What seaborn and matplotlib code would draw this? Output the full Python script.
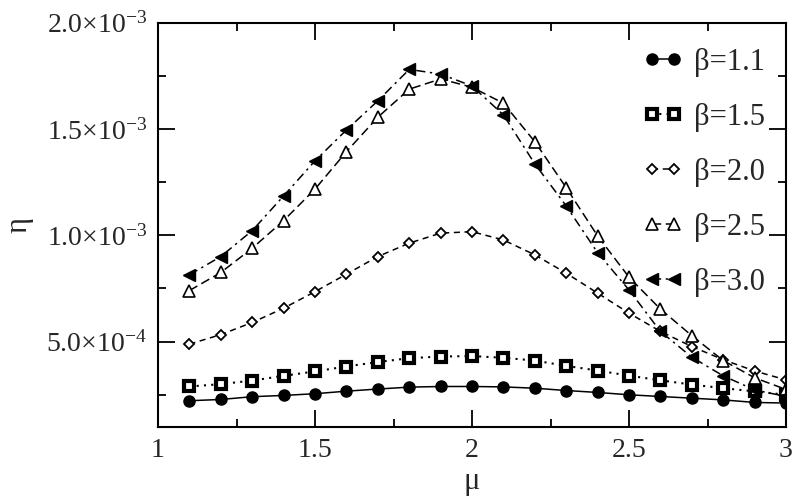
import numpy as np
import pandas as pd
import seaborn as sns
import matplotlib
matplotlib.use("Agg")
import matplotlib.pyplot as plt
from matplotlib.ticker import FixedLocator, MultipleLocator

# ---- data ----
mu = [1.1, 1.2, 1.3, 1.4, 1.5, 1.6, 1.7, 1.8, 1.9, 2.0,
      2.1, 2.2, 2.3, 2.4, 2.5, 2.6, 2.7, 2.8, 2.9, 3.0]
beta_labels = ["β=1.1", "β=1.5", "β=2.0", "β=2.5", "β=3.0"]
eta_b11 = [2.22, 2.28, 2.41, 2.47, 2.55, 2.67, 2.77, 2.86, 2.89, 2.89,
           2.87, 2.81, 2.70, 2.61, 2.50, 2.42, 2.34, 2.26, 2.14, 2.11]
eta_b15 = [2.89, 3.00, 3.17, 3.39, 3.60, 3.83, 4.04, 4.22, 4.30, 4.32,
           4.24, 4.11, 3.86, 3.64, 3.40, 3.18, 2.98, 2.81, 2.66, 2.50]
eta_b20 = [4.88, 5.33, 5.90, 6.57, 7.35, 8.17, 9.00, 9.63, 10.10, 10.17,
           9.78, 9.08, 8.22, 7.28, 6.34, 5.48, 4.77, 4.15, 3.62, 3.20]
eta_b25 = [7.40, 8.25, 9.39, 10.69, 12.17, 13.93, 15.55, 16.87, 17.35, 16.96,
           16.21, 14.40, 12.24, 9.97, 8.03, 6.53, 5.28, 4.11, 3.30, 2.75]
eta_b30 = [8.14, 9.00, 10.22, 11.85, 13.50, 14.95, 16.32, 17.80, 17.58, 17.02,
           15.66, 13.36, 11.38, 9.18, 7.43, 5.48, 4.27, 3.39, 2.73, 2.42]
series = [eta_b11, eta_b15, eta_b20, eta_b25, eta_b30]
scale = 1e-4
yticks = [5.0e-4, 1.0e-3, 1.5e-3, 2.0e-3]
ytick_labels = [r"$\mathregular{5.0{\times}10^{-4}}$", r"$\mathregular{1.0{\times}10^{-3}}$",
                r"$\mathregular{1.5{\times}10^{-3}}$", r"$\mathregular{2.0{\times}10^{-3}}$"]
xticks = [1, 1.5, 2, 2.5, 3]
xtick_labels = ["1", "1.5", "2", "2.5", "3"]

frames = []
for lab, vals in zip(beta_labels, series):
    frames.append(pd.DataFrame({"mu": mu, "eta": np.array(vals) * scale, "beta": lab}))
df = pd.concat(frames, ignore_index=True)

sns.set_style("white")
plt.rcParams["font.family"] = ["Liberation Serif", "DejaVu Serif"]
plt.rcParams["mathtext.fontset"] = "stix"

styles = {
    "β=1.1": dict(marker="o", markersize=8, markerfacecolor="black", markeredgecolor="black",
                  markeredgewidth=1.0, linestyle="-", linewidth=1.1),
    "β=1.5": dict(marker="s", markersize=7.5, markerfacecolor="white", markeredgecolor="black",
                  markeredgewidth=3.0, linestyle=(0, (1, 2.5)), linewidth=1.5),
    "β=2.0": dict(marker="D", markersize=5.5, markerfacecolor="white", markeredgecolor="black",
                  markeredgewidth=1.3, linestyle=(0, (4, 3)), linewidth=1.1),
    "β=2.5": dict(marker="^", markersize=8, markerfacecolor="white", markeredgecolor="black",
                  markeredgewidth=1.2, linestyle=(0, (6, 3)), linewidth=1.1),
    "β=3.0": dict(marker="<", markersize=9, markerfacecolor="black", markeredgecolor="black",
                  markeredgewidth=1.0, linestyle=(0, (6, 3, 1.5, 3)), linewidth=1.1),
}

fig = plt.figure(figsize=(8.0, 4.98), dpi=100)
ax = fig.add_axes([0.1975, 0.1432, 0.785, 0.8114])

for lab in beta_labels:
    sub = df[df["beta"] == lab]
    sns.lineplot(data=sub, x="mu", y="eta", ax=ax, color="black", label=lab,
                 sort=False, estimator=None, **styles[lab])

ax.set_xlim(1, 3)
ax.set_ylim(1.0e-4, 2.0e-3)
ax.xaxis.set_major_locator(FixedLocator(xticks))
ax.set_xticklabels(xtick_labels)
ax.xaxis.set_minor_locator(MultipleLocator(0.25))
ax.yaxis.set_major_locator(FixedLocator(yticks))
ax.set_yticklabels(ytick_labels)
ax.yaxis.set_minor_locator(MultipleLocator(2.5e-4))

ax.tick_params(which="both", direction="in", top=True, right=True, bottom=True, left=True,
               color="black", width=1.3)
ax.tick_params(which="major", length=12, labelsize=20, pad=8)
ax.tick_params(which="minor", length=6)
for s in ax.spines.values():
    s.set_color("black")
    s.set_linewidth(1.5)

ax.set_xlabel("μ", fontsize=22, labelpad=3)
ax.set_ylabel("η", fontsize=22, labelpad=9)

leg = ax.legend(loc="upper right", bbox_to_anchor=(1.0, 0.99), frameon=False, fontsize=22,
                numpoints=2, handlelength=1.3, handletextpad=0.35, labelspacing=0.85,
                borderaxespad=0.3)

fig.savefig("out.png", dpi=100)
